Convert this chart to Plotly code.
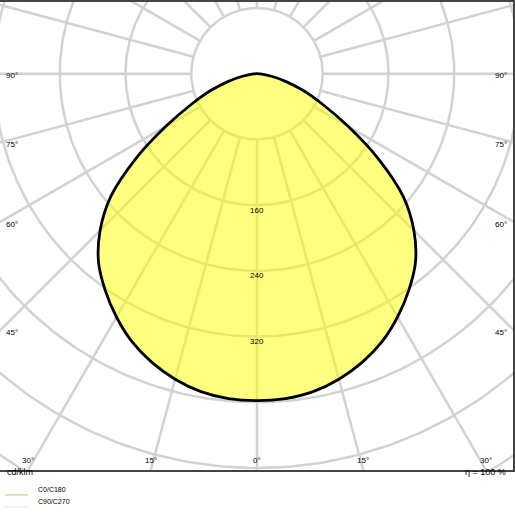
import numpy as np
import plotly.graph_objects as go

# Luminous intensity distribution (cd/klm) by gamma angle, symmetric
gamma_deg = [0, 5, 10, 15, 20, 25, 30, 35, 40, 45, 50, 55, 60, 65, 70, 75, 80, 85, 90]
intensity = [398, 397, 393, 385, 374, 360, 342, 322, 300, 270, 232, 180, 128, 88, 60, 36, 18, 6, 0]

ring_values = [80, 160, 240, 320, 400, 480, 560]
ring_labels = {160: "160", 240: "240", 320: "320"}
spoke_angles = list(range(0, 360, 15))
edge_labels = [90, 75, 60, 45]
bottom_labels = [30, 15, 0]

W, H = 515, 515
PLOT_H = 470
CX, CY = 258, 72
S = 66 / 80.0  # px per cd/klm

fig = go.Figure()

# grid rings
t = np.linspace(0, 2 * np.pi, 361)
for r in ring_values:
    fig.add_trace(go.Scatter(x=r * np.sin(t), y=r * np.cos(t), mode="lines",
                             line=dict(color="#d2d2d2", width=2.5), hoverinfo="skip"))
# spokes starting at inner ring
for a in spoke_angles:
    ar = np.radians(a)
    fig.add_trace(go.Scatter(x=[80 * np.sin(ar), 900 * np.sin(ar)],
                             y=[-80 * np.cos(ar), -900 * np.cos(ar)], mode="lines",
                             line=dict(color="#d2d2d2", width=2.5), hoverinfo="skip"))

# curve (mirror both sides)
g = np.radians(np.array(gamma_deg))
I = np.array(intensity)
xs = np.concatenate([-(I * np.sin(g))[::-1], (I * np.sin(g))[1:]])
ys = np.concatenate([-(I * np.cos(g))[::-1], -(I * np.cos(g))[1:]])
fig.add_trace(go.Scatter(x=xs, y=ys, mode="lines", line=dict(color="black", width=2.8, shape="spline"),
                         fill="toself", fillcolor="rgba(255,255,0,0.5)", hoverinfo="skip"))

font = dict(family="Liberation Sans, Arial", size=8, color="black")
ann = []
for r, txt in ring_labels.items():
    ann.append(dict(x=0, y=-r, text=txt, showarrow=False, yshift=-5, font=font))

xmin, xmax = -CX / S, (W - CX) / S
ymax, ymin = CY / S, -(PLOT_H - CY) / S
for a in edge_labels:
    yv = -(CX / S) / np.tan(np.radians(a)) if a != 90 else 0
    for side, xa in ((-1, "left"), (1, "right")):
        ann.append(dict(x=xmin if side < 0 else xmax, y=yv, text=f"{a}°", showarrow=False,
                        xanchor=xa, xshift=4 * (-side), yshift=-2, font=font))
for a in bottom_labels:
    xv = -ymin * np.tan(np.radians(a))
    for side in ((-1, 1) if a else (1,)):
        ann.append(dict(x=side * xv, y=ymin, text=f"{a}°", showarrow=False,
                        yanchor="bottom", yshift=3, font=font))

# footer
def py(px):
    return (PLOT_H - px) / PLOT_H

ann.append(dict(xref="paper", yref="paper", x=5 / W, y=py(479), text="cd/klm", showarrow=False,
                xanchor="left", font=dict(family="Liberation Sans, Arial", size=9, color="black")))
ann.append(dict(xref="paper", yref="paper", x=510 / W, y=py(479), text="η = 100 %", showarrow=False,
                xanchor="right", font=dict(family="Liberation Sans, Arial", size=9, color="black")))
legend = [("C0/C180", "#dcb27a", 495), ("C90/C270", "#e6e6e6", 507)]
shapes = []
for name, col, ypx in legend:
    shapes.append(dict(type="line", xref="paper", yref="paper", x0=5 / W, x1=28 / W,
                       y0=py(ypx), y1=py(ypx), line=dict(color=col, width=1)))
    ann.append(dict(xref="paper", yref="paper", x=36 / W, y=py(ypx), text=name, showarrow=False,
                    xanchor="left", font=dict(family="Liberation Sans, Arial", size=7, color="black")))

fig.update_layout(
    width=W, height=H, margin=dict(l=0, r=0, t=0, b=H - PLOT_H),
    plot_bgcolor="white", paper_bgcolor="white", showlegend=False,
    annotations=ann, shapes=shapes,
    xaxis=dict(range=[xmin, xmax], visible=True, showgrid=False, zeroline=False, showticklabels=False,
               showline=True, mirror=True, linecolor="#444", linewidth=2, fixedrange=True),
    yaxis=dict(range=[ymin, ymax], showgrid=False, zeroline=False, showticklabels=False,
               showline=True, mirror=True, linecolor="#444", linewidth=2, fixedrange=True),
)

fig.write_html("out.html", config={"displayModeBar": False},
               post_script="document.body.style.margin='0';document.body.style.overflow='hidden';")
